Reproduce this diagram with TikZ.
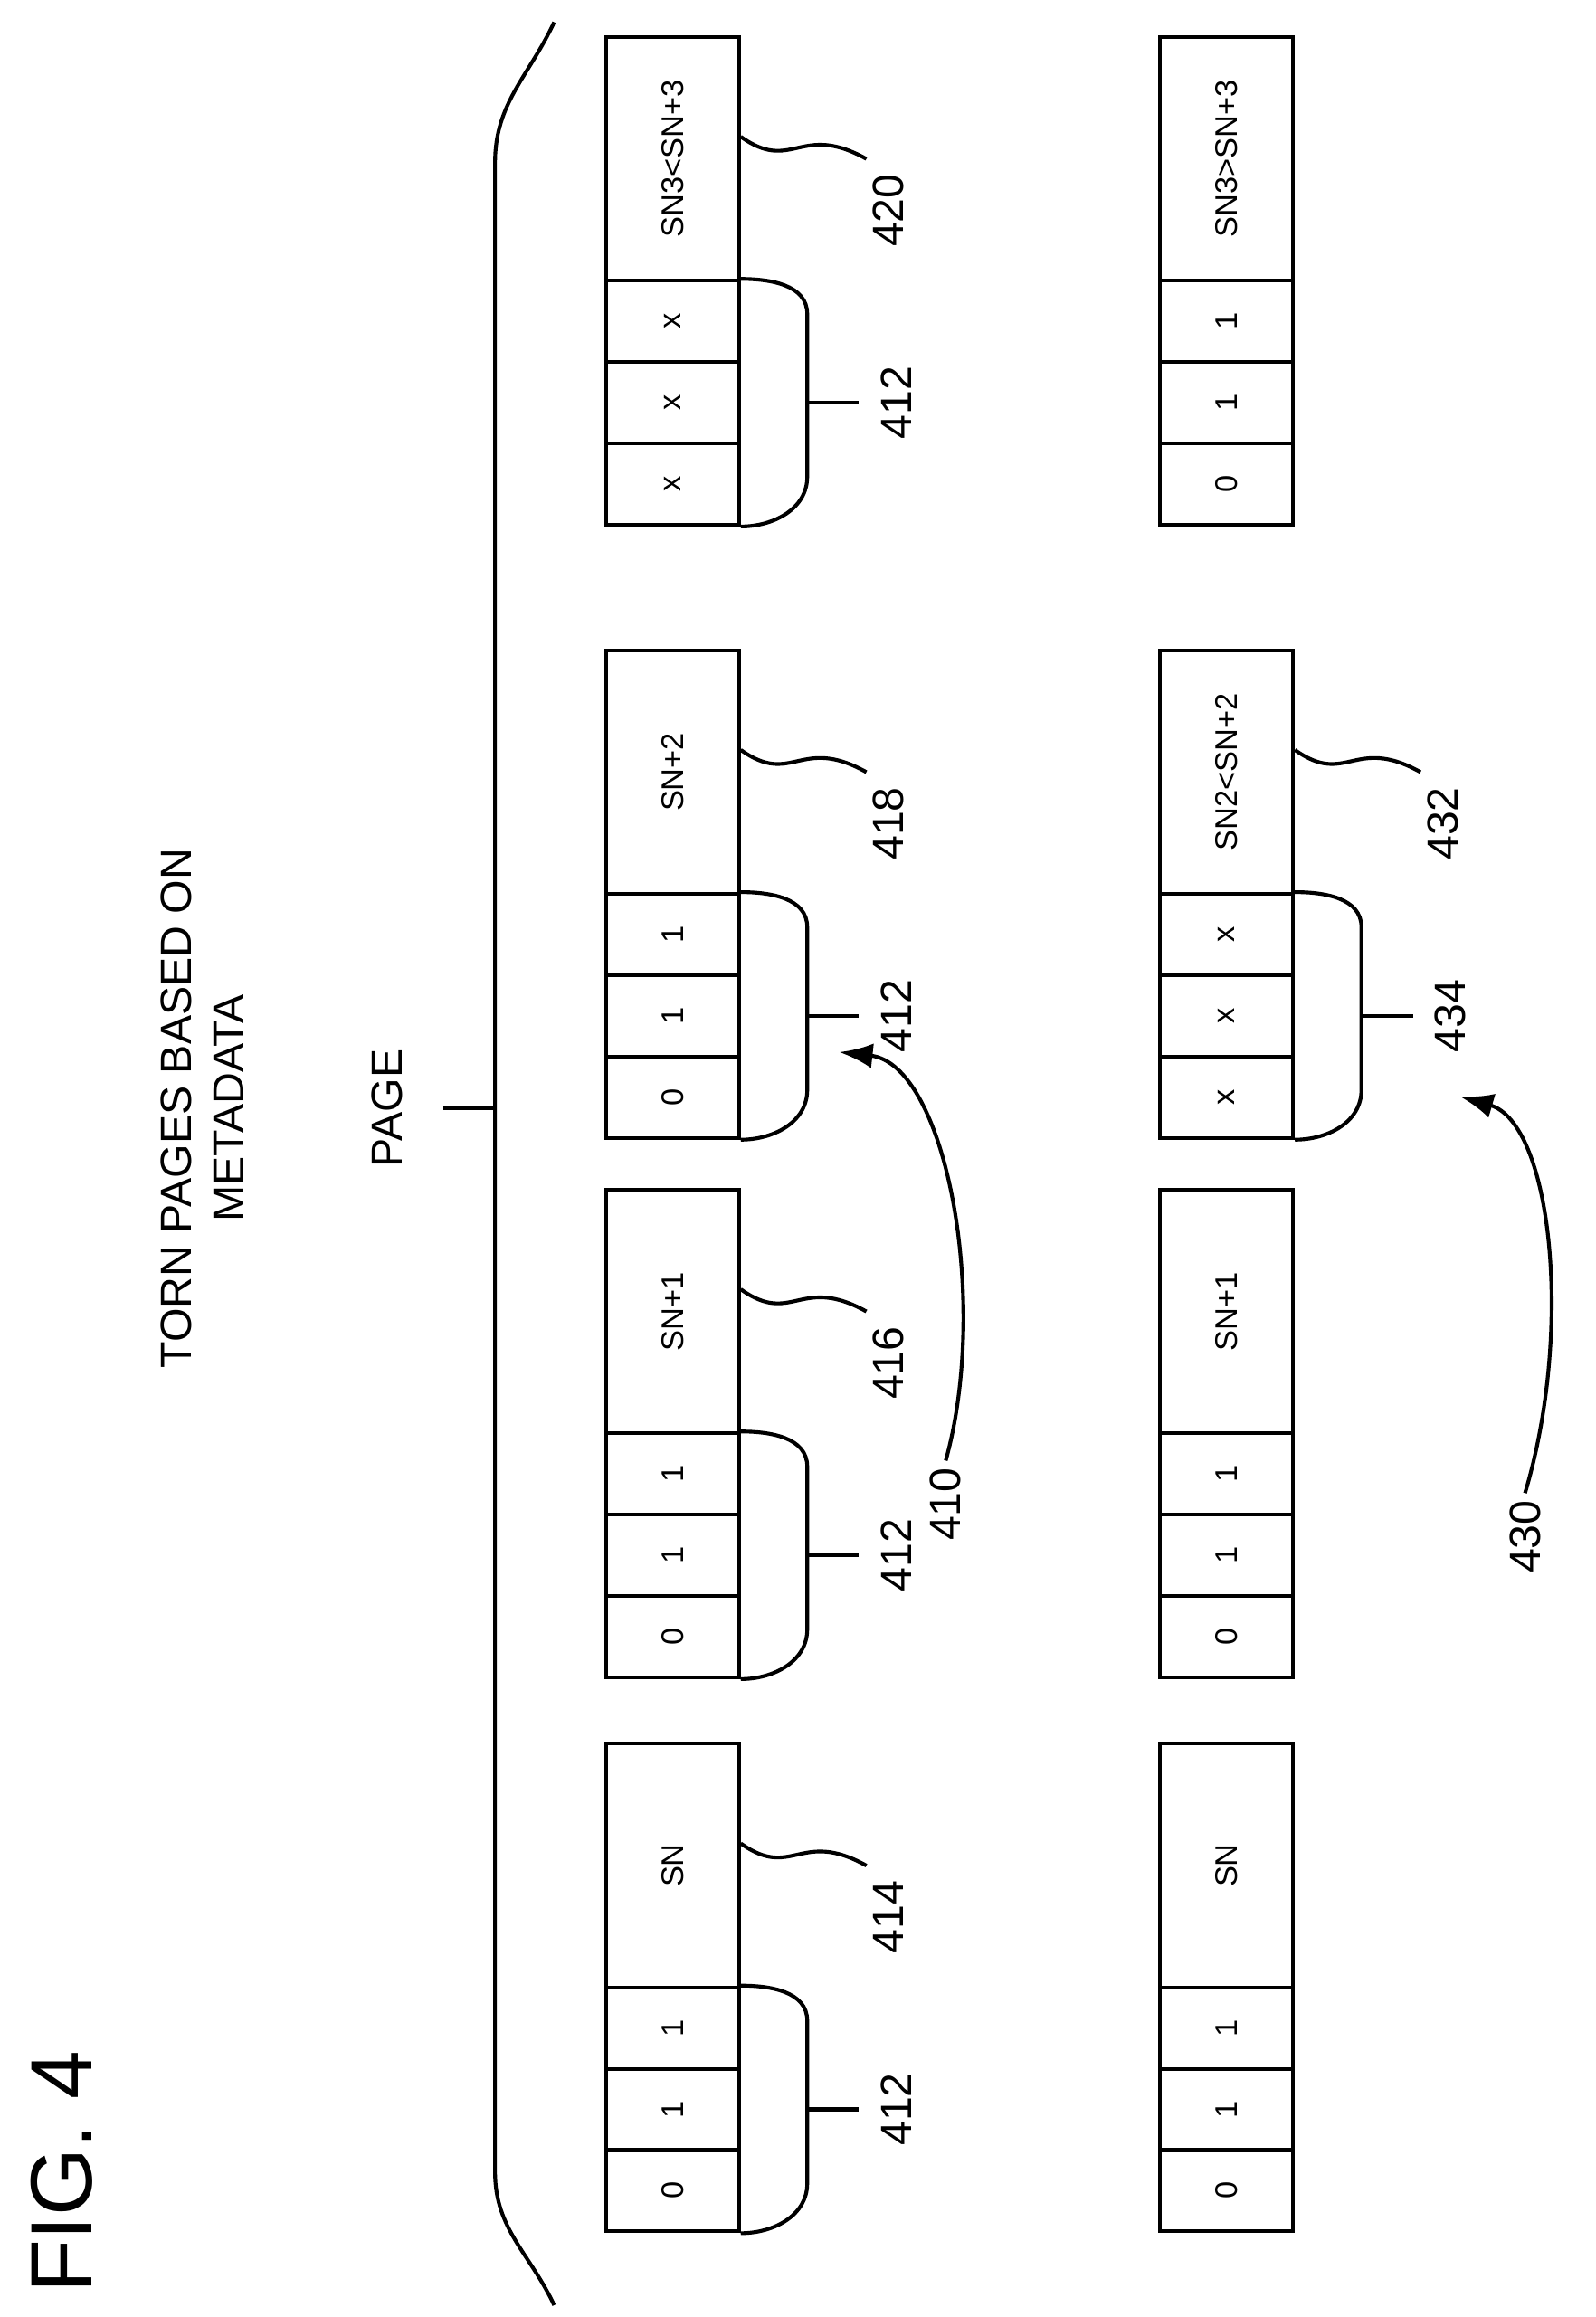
\documentclass[tikz,border=0pt]{standalone}
\usepackage{fontspec}
\setmainfont{Liberation Sans}
\usetikzlibrary{calc,arrows.meta}
\tikzset{
  cell/.style={draw, line width=1.8pt, rotate=90, inner sep=0pt, minimum width=1.375cm, minimum height=2.25cm, font=\fontsize{15}{18}\selectfont},
  lbl/.style={cell, minimum width=4.125cm},
  ref/.style={rotate=90, font=\fontsize{21}{25}\selectfont},
  lead/.style={line width=1.8pt}
}
\begin{document}
\begin{tikzpicture}[x=0.025cm,y=-0.025cm]
  \useasboundingbox (0,0) rectangle (1080,1568);
  % Title and figure number
  \node[rotate=90, font=\fontsize{42}{48}\selectfont] (fig) at (42,1470) {FIG. 4};
  \node[ref, align=center] (title) at (137,750) {TORN PAGES BASED ON\\METADATA};
  \node[ref] (page) at (262,750) {PAGE};
  % Page brace
  \coordinate (pb) at (335,750);
  \draw[lead] (375,15) to[out=-115,in=90] (335,110) -- (335,1470) to[out=-90,in=115] (375,1560);
  \draw[lead] (300,750) -- (pb);
  % Pages
  \foreach \r/\x/\y/\a/\b/\c/\s in {
    t1/455/1510/0/1/1/SN, t2/455/1135/0/1/1/SN+1, t3/455/770/0/1/1/SN+2, t4/455/355/x/x/x/SN3<SN+3,
    b1/830/1510/0/1/1/SN, b2/830/1135/0/1/1/SN+1, b3/830/770/x/x/x/SN2<SN+2, b4/830/355/0/1/1/SN3>SN+3} {
    \node[cell] (\r a) at (\x,\y-27.5) {\a};
    \node[cell] (\r b) at (\x,\y-82.5) {\b};
    \node[cell] (\r c) at (\x,\y-137.5) {\c};
    \node[lbl] (\r s) at (\x,\y-247.5) {\s};
  }
  % Cell braces
  \foreach \r/\n in {t1/412, t2/412, t3/412, t4/412, b3/434} {
    \draw[lead] (\r a.south west) to[out=0,in=-90] ($(\r b.south)+(45,50)$) -- ($(\r b.south)+(45,-60)$) to[out=90,in=0] (\r c.south east);
    \draw[lead] ($(\r b.south)+(45,0)$) -- ($(\r b.south)+(80,0)$);
    \node[ref] (n\r) at ($(\r b.south)+(105,0)$) {\n};
  }
  % Label box callouts
  \foreach \r/\n in {t1/414, t2/416, t3/418, t4/420, b3/432} {
    \draw[lead] ($(\r s.south)+(0,-15)$) .. controls +(35,25) and +(-45,-25) .. +(85,15);
    \node[ref] (n\r s) at ($(\r s.south)+(100,35)$) {\n};
  }
  % Group arrows
  \node[ref] (n410) at (640,1018) {410};
  \node[ref] (n430) at (1032,1040) {430};
  \draw[lead, -{Latex[length=16pt,width=12pt]}] (n410.east) .. controls (670,880) and (640,720) .. (568,712);
  \draw[lead, -{Latex[length=16pt,width=12pt]}] (n430.east) .. controls (1065,900) and (1050,760) .. (988,742);
\end{tikzpicture}
\end{document}
